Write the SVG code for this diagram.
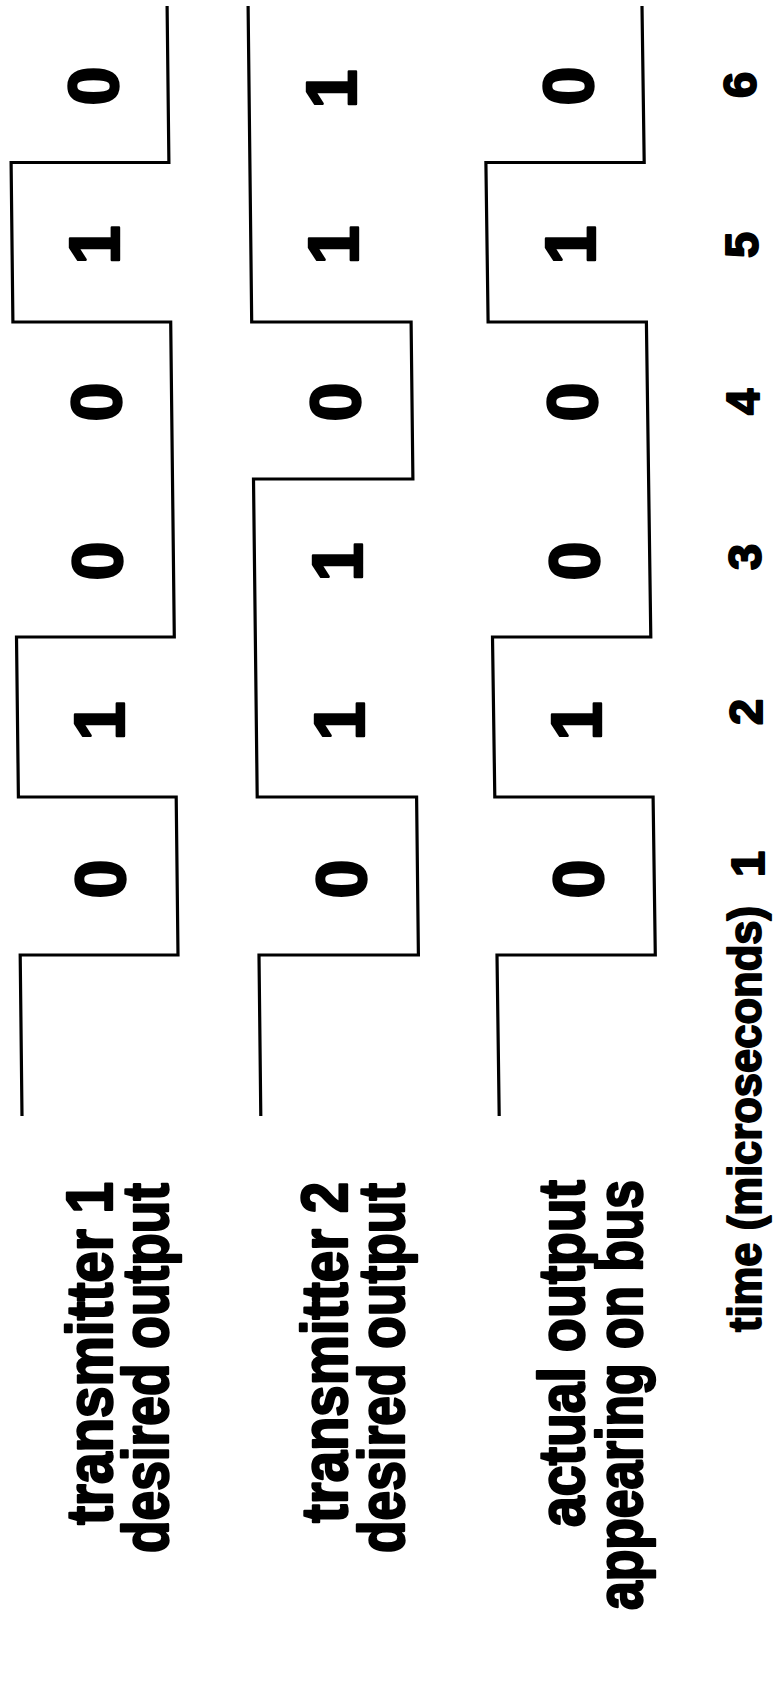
<svg xmlns="http://www.w3.org/2000/svg" width="775" height="1690" viewBox="0 0 775 1690">
<style>
  .sig { fill: none; stroke: #000; stroke-width: 3.2; stroke-linejoin: miter; stroke-linecap: butt; }
  .bit { font-family: "Liberation Sans", Arial, sans-serif; font-weight: bold; font-size: 70px; text-anchor: middle; fill: #000; stroke: #000; stroke-width: 2.4; stroke-linejoin: round; }
  .tick { font-family: "Liberation Sans", Arial, sans-serif; font-weight: bold; font-size: 47px; text-anchor: middle; fill: #000; stroke: #000; stroke-width: 2; stroke-linejoin: round; }
  .lbl { font-family: "Liberation Sans", Arial, sans-serif; font-weight: bold; font-size: 64px; text-anchor: end; fill: #000; stroke: #000; stroke-width: 2.4; stroke-linejoin: round; }
  .axis { font-family: "Liberation Sans", Arial, sans-serif; font-weight: bold; font-size: 46px; text-anchor: start; fill: #000; stroke: #000; stroke-width: 1.8; stroke-linejoin: round; }
</style>
<rect x="0" y="0" width="775" height="1690" fill="#fff"/>

<g id="connectors">
  <path id="wave-tx1" class="sig" d="M167.1,6 L168.9,162.5 L11.1,162.5 L12.9,322 L170.7,322 L174.3,637 L16.5,637 L18.4,797 L176.2,797 L178.0,955 L20.2,955 L22.0,1116"/>
  <path id="wave-tx2" class="sig" d="M248.1,6 L251.7,322 L411.1,322 L412.9,479 L253.5,479 L257.2,797 L416.6,797 L418.4,955 L259.0,955 L260.8,1116"/>
  <path id="wave-bus" class="sig" d="M642.0,6 L644.2,162.5 L485.9,162.5 L488.1,322 L646.4,322 L650.8,637 L492.5,637 L494.8,797 L653.1,797 L655.3,955 L497.0,955 L499.2,1116"/>
</g>

<g id="bits-tx1">
  <text class="bit" transform="translate(117.8,86) rotate(-90)">0</text>
  <text class="bit" transform="translate(119.2,245) rotate(-90)">1</text>
  <text class="bit" transform="translate(120.6,402) rotate(-90)">0</text>
  <text class="bit" transform="translate(122,561) rotate(-90)">0</text>
  <text class="bit" transform="translate(123.5,721) rotate(-90)">1</text>
  <text class="bit" transform="translate(124.9,879) rotate(-90)">0</text>
</g>
<g id="bits-tx2">
  <text class="bit" transform="translate(356,89) rotate(-90)">1</text>
  <text class="bit" transform="translate(357.9,245) rotate(-90)">1</text>
  <text class="bit" transform="translate(359.8,402) rotate(-90)">0</text>
  <text class="bit" transform="translate(361.7,562) rotate(-90)">1</text>
  <text class="bit" transform="translate(363.6,721) rotate(-90)">1</text>
  <text class="bit" transform="translate(365.5,879) rotate(-90)">0</text>
</g>
<g id="bits-bus">
  <text class="bit" transform="translate(593,86) rotate(-90)">0</text>
  <text class="bit" transform="translate(594.9,245) rotate(-90)">1</text>
  <text class="bit" transform="translate(596.8,402) rotate(-90)">0</text>
  <text class="bit" transform="translate(598.7,561) rotate(-90)">0</text>
  <text class="bit" transform="translate(600.6,721) rotate(-90)">1</text>
  <text class="bit" transform="translate(602.5,879) rotate(-90)">0</text>
</g>

<g id="time-axis">
  <text class="tick" transform="translate(755.9,85) rotate(-90)">6</text>
  <text class="tick" transform="translate(757.5,245) rotate(-90)">5</text>
  <text class="tick" transform="translate(759,402) rotate(-90)">4</text>
  <text class="tick" transform="translate(760.6,557) rotate(-90)">3</text>
  <text class="tick" transform="translate(762,712) rotate(-90)">2</text>
  <text class="tick" transform="translate(763.7,864) rotate(-90)">1</text>
  <text class="axis" transform="translate(761,1332) rotate(-90)" textLength="426" lengthAdjust="spacingAndGlyphs">time (microseconds)</text>
</g>

<g id="label-tx1">
  <text class="lbl" transform="translate(112,1182) rotate(-90)" textLength="343" lengthAdjust="spacingAndGlyphs">transmitter 1</text>
  <text class="lbl" transform="translate(168,1183) rotate(-90)" textLength="370" lengthAdjust="spacingAndGlyphs">desired output</text>
</g>
<g id="label-tx2">
  <text class="lbl" transform="translate(347,1182) rotate(-90)" textLength="341" lengthAdjust="spacingAndGlyphs">transmitter 2</text>
  <text class="lbl" transform="translate(404,1183) rotate(-90)" textLength="370" lengthAdjust="spacingAndGlyphs">desired output</text>
</g>
<g id="label-bus">
  <text class="lbl" transform="translate(584,1180) rotate(-90)" textLength="347" lengthAdjust="spacingAndGlyphs">actual output</text>
  <text class="lbl" transform="translate(642,1180) rotate(-90)" textLength="430" lengthAdjust="spacingAndGlyphs">appearing on bus</text>
</g>
</svg>
